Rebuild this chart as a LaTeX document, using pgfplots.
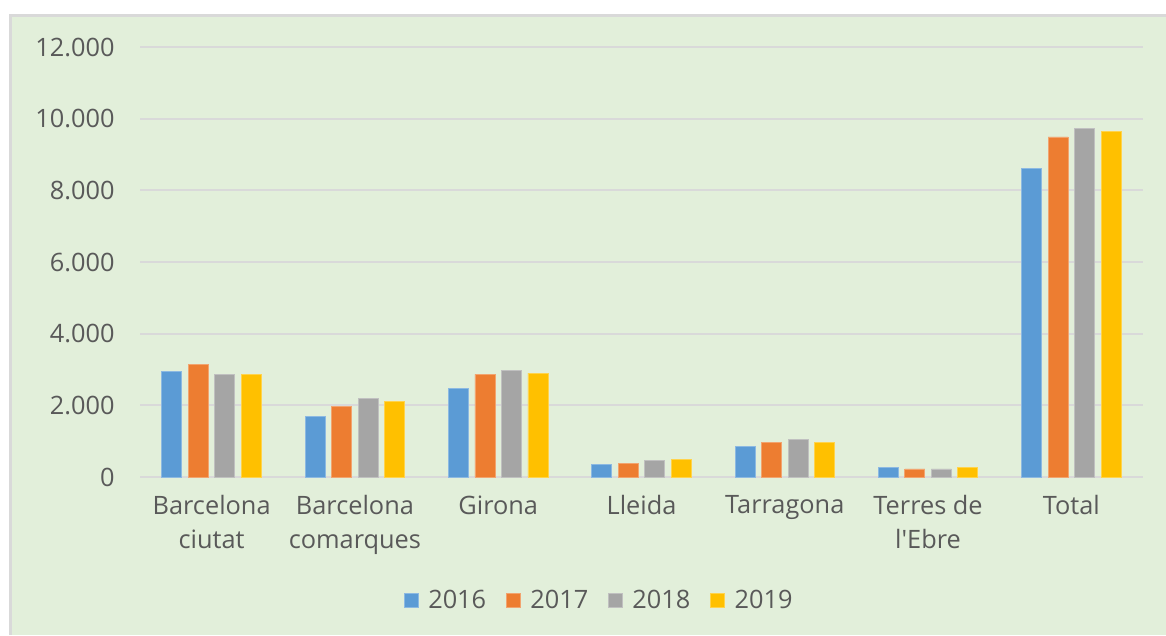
\documentclass[border=0pt]{standalone}
\usepackage{pgfplots}
\pgfplotsset{compat=1.18}
\usepackage{fontspec}
\setmainfont{Open Sans}
\definecolor{bg}{HTML}{E2EFDA}
\definecolor{bordergray}{HTML}{D9D9D9}
\definecolor{gridgray}{HTML}{D9D9D9}
\definecolor{textgray}{HTML}{595959}
\definecolor{cA}{HTML}{5B9BD5}
\definecolor{cB}{HTML}{ED7D31}
\definecolor{cC}{HTML}{A5A5A5}
\definecolor{cD}{HTML}{FFC000}
\begin{document}
\begin{tikzpicture}[x=0.6pt,y=0.6pt]
\useasboundingbox (0,0) rectangle (1166,635);
\fill[white] (0,0) rectangle (1166,635);
\fill[bg] (10,0) rectangle (1166,620);
\draw[line width=1.8pt, color=bordergray] (10.5,0) -- (10.5,619.5) -- (1166,619.5);
\begin{axis}[
  at={(84pt,94.8pt)}, anchor=south west,
  scale only axis, width=601.8pt, height=258pt,
  xmin=-0.5, xmax=6.5, ymin=0, ymax=12000,
  clip=false,
  ybar=3.9pt, bar width=12pt,
  axis line style={draw=none},
  major tick length=0pt,
  ytick={0,2000,4000,6000,8000,10000,12000},
  xtick={0,1,2,3,4,5,6},
  xticklabels={{Barcelona\\ciutat},{Barcelona\\comarques},{Girona},{Lleida},{Tarragona},{Terres de\\l\textquotesingle Ebre},{Total}},
  scaled y ticks=false,
  /pgf/number format/.cd, 1000 sep={.}, assume math mode=true,
  /pgfplots/.cd,
  ymajorgrids, grid style={color=gridgray, line width=1.2pt},
  tick label style={font=\fontsize{15.2}{20.3}\selectfont, text=textgray},
  yticklabel style={anchor=east, inner sep=0pt, xshift=-15pt},
  xticklabel style={anchor=north, align=center, inner sep=0pt, yshift=-11pt},
  legend style={at={(0.4586,-0.288)}, anchor=center, legend columns=-1, draw=none, fill=none,
    font=\fontsize{15.2}{18}\selectfont, text=textgray,
    /tikz/every odd column/.append style={column sep=3.6pt},
    /tikz/every even column/.append style={column sep=10pt}},
  legend image code/.code={\fill[#1] (0pt,-4.2pt) rectangle (8.4pt,4.2pt);},
]
\addplot[fill=cA, draw=cA!70!white, line width=0.5pt] coordinates {(0,2940) (1,1680) (2,2470) (3,340) (4,855) (5,265) (6,8600)};
\addplot[fill=cB, draw=cB!70!white, line width=0.5pt] coordinates {(0,3145) (1,1965) (2,2865) (3,385) (4,975) (5,225) (6,9490)};
\addplot[fill=cC, draw=cC!70!white, line width=0.5pt] coordinates {(0,2865) (1,2190) (2,2975) (3,460) (4,1050) (5,225) (6,9715)};
\addplot[fill=cD, draw=cD!70!white, line width=0.5pt] coordinates {(0,2860) (1,2115) (2,2900) (3,500) (4,975) (5,265) (6,9640)};
\legend{2016,2017,2018,2019}
\end{axis}
\end{tikzpicture}
\end{document}
